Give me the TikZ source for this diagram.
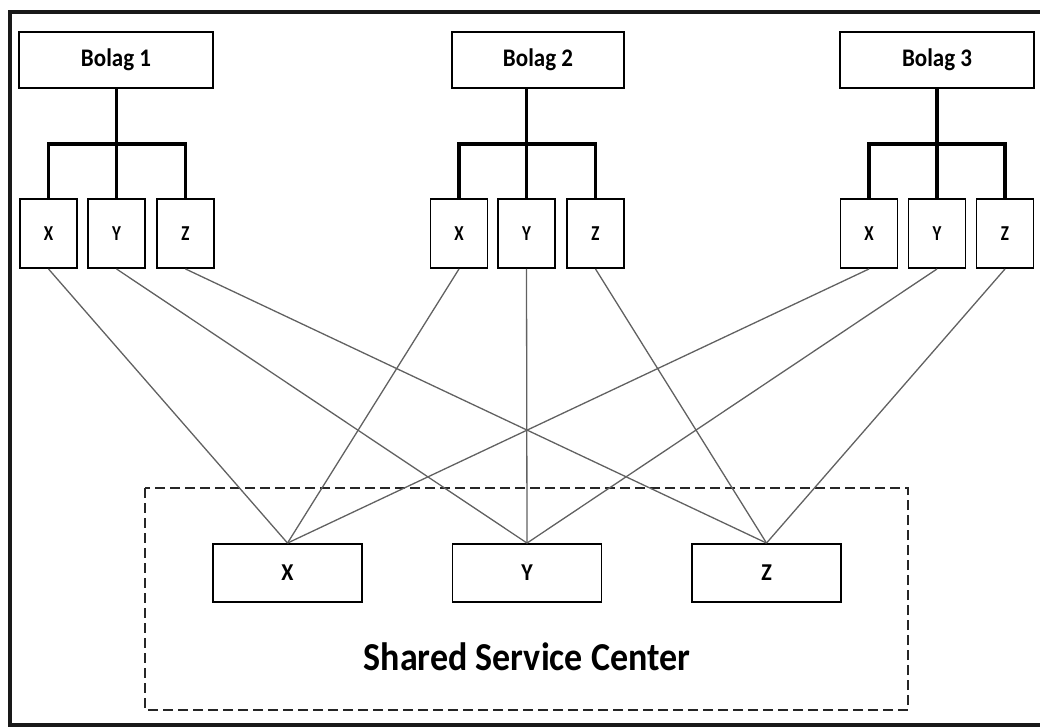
\documentclass[tikz,border=0pt]{standalone}
\usepackage{fontspec}
\setmainfont{Carlito}
\newcommand\tallx[2]{\scalebox{1}[#1]{#2}}
\begin{document}
\begin{tikzpicture}[x=1pt,y=-1pt,
  box/.style={draw=black, line width=1.9pt, fill=white, inner sep=0pt},
  bolag/.style={box, minimum height=56pt, font=\bfseries\fontsize{23}{26}\selectfont},
  unit/.style={box, minimum width=57pt, minimum height=69pt, font=\bfseries\fontsize{17}{19}\selectfont},
  ssc/.style={box, minimum width=149pt, minimum height=58pt, font=\bfseries\fontsize{22}{24}\selectfont},
  tree/.style={draw=black, line width=3.1pt, line cap=rect},
  link/.style={draw=black!62, line width=1.3pt},
  frame/.style={draw=black!90, line width=4pt},
  group/.style={draw=black!85, line width=2pt, dash pattern=on 10pt off 5pt}
]
\useasboundingbox (0,0) rectangle (1040,726);
\draw[frame] (1060,11.5) -- (9.5,11.5) -- (9.5,724.5) -- (1060,724.5);

% dashed group
\draw[group] (145,488) rectangle (908,710);
\node[anchor=base, font=\bfseries\fontsize{36}{40}\selectfont] (title) at (527,670) {\tallx{1.1}{Shared Service Center}};

% companies
\node[bolag, minimum width=194pt] (b1) at (116,60) {\tallx{1.1}{Bolag 1}};
\node[bolag, minimum width=172pt] (b2) at (538,60) {\tallx{1.1}{Bolag 2}};
\node[bolag, minimum width=194pt] (b3) at (937,60) {\tallx{1.1}{Bolag 3}};

\node[unit] (b1x) at (48.5,233.5) {\tallx{1.25}{X}};
\node[unit] (b1y) at (116.5,233.5) {\tallx{1.25}{Y}};
\node[unit] (b1z) at (185.5,233.5) {\tallx{1.25}{Z}};
\node[unit] (b2x) at (459,233.5) {\tallx{1.25}{X}};
\node[unit] (b2y) at (526.5,233.5) {\tallx{1.25}{Y}};
\node[unit] (b2z) at (595.5,233.5) {\tallx{1.25}{Z}};
\node[unit] (b3x) at (869,233.5) {\tallx{1.25}{X}};
\node[unit] (b3y) at (937,233.5) {\tallx{1.25}{Y}};
\node[unit] (b3z) at (1005,233.5) {\tallx{1.25}{Z}};

% SSC units
\node[ssc] (sx) at (287.5,573) {\tallx{1.1}{X}};
\node[ssc] (sy) at (527,573) {\tallx{1.1}{Y}};
\node[ssc] (sz) at (766.5,573) {\tallx{1.1}{Z}};

% junctions
\coordinate (j1) at (116.5,144);
\coordinate (j2) at (526.5,144);
\coordinate (j3) at (937,144);

% trees
\draw[tree] (b1.south -| j1) -- (b1y.north);
\draw[tree] (b1x.north) -- (b1x.north |- j1) -- (b1z.north |- j1) -- (b1z.north);
\draw[tree] (b2.south -| j2) -- (b2y.north);
\draw[tree] (b2x.north) -- (b2x.north |- j2) -- (b2z.north |- j2) -- (b2z.north);
\draw[tree] (b3.south -| j3) -- (b3y.north);
\draw[tree] (b3x.north) -- (b3x.north |- j3) -- (b3z.north |- j3) -- (b3z.north);

% links
\foreach \b in {b1,b2,b3}{
  \draw[link] (\b x.south) -- (sx.north);
  \draw[link] (\b y.south) -- (sy.north);
  \draw[link] (\b z.south) -- (sz.north);
}
\end{tikzpicture}
\end{document}
